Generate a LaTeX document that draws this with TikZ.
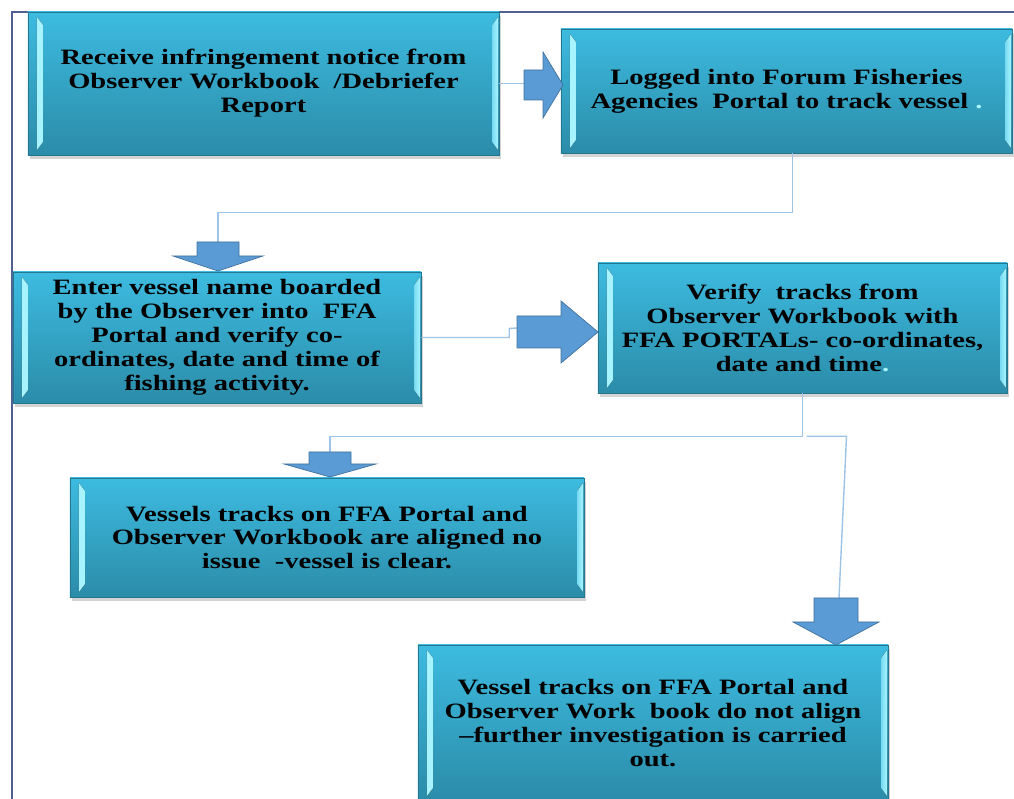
\documentclass[tikz,border=0pt]{standalone}
\usepackage{fontspec}
\newfontfamily\boxfont{Liberation Serif}[FakeStretch=1.3]
\usetikzlibrary{shadows,calc}

\definecolor{boxtop}{HTML}{3DBBE0}
\definecolor{boxbot}{HTML}{2B8CA9}
\definecolor{bevel}{HTML}{A8F4FF}
\definecolor{arrowfill}{HTML}{5B9BD5}
\definecolor{arrowline}{HTML}{41719C}
\definecolor{linkblue}{HTML}{9DC3E6}
\definecolor{framecol}{HTML}{4F6090}

\begin{document}
\begin{tikzpicture}[x=0.025cm, y=-0.025cm,
    stepbox/.style={rectangle, inner sep=0pt, top color=boxtop, bottom color=boxbot,
        draw=boxbot!85!black, line width=0.3pt, align=center,
        font=\boxfont\bfseries\fontsize{15.6}{17}\selectfont,
        drop shadow={shadow xshift=0.5mm, shadow yshift=-0.9mm, opacity=0.35},
        path picture={
            \fill[left color=bevel, right color=bevel!55!boxtop]
                ([shift={(9,5)}]path picture bounding box.north west) -- ([shift={(15,13)}]path picture bounding box.north west)
                -- ([shift={(15,-13)}]path picture bounding box.south west) -- ([shift={(9,-5)}]path picture bounding box.south west) -- cycle;
            \fill[right color=bevel, left color=bevel!55!boxtop]
                ([shift={(-1,5)}]path picture bounding box.north east) -- ([shift={(-7,13)}]path picture bounding box.north east)
                -- ([shift={(-7,-13)}]path picture bounding box.south east) -- ([shift={(-1,-5)}]path picture bounding box.south east) -- cycle;
        }},
    blockarrow/.style={fill=arrowfill, draw=arrowline, line width=0.5pt, line join=miter},
    link/.style={draw=linkblue, line width=1pt},
    pageframe/.style={draw=framecol, line width=0.9pt}]

\useasboundingbox (0,0) rectangle (1014,799);

% outer frame
\draw[pageframe] (12,799) -- (12,12) -- (1014,12);

% steps
\node[stepbox, minimum width=11.775cm, minimum height=3.575cm] (receive) at (263.5,83.5)
    {Receive infringement notice from\\Observer Workbook \ /Debriefer\\Report};
\node[stepbox, minimum width=11.275cm, minimum height=3.1cm] (logged) at (786.5,91)
    {Logged into Forum Fisheries\\Agencies \ Portal to track vessel {\color{bevel}.}};
\node[stepbox, minimum width=10.2cm, minimum height=3.275cm] (enter) at (217,337.5)
    {Enter vessel name boarded\\by the Observer into \ FFA\\Portal and verify co-\\ordinates, date and time of\\fishing activity.};
\node[stepbox, minimum width=10.225cm, minimum height=3.25cm] (verify) at (802.5,328)
    {Verify \ tracks from\\Observer Workbook with\\FFA PORTALs- co-ordinates,\\date and time{\color{bevel}.}};
\node[stepbox, minimum width=12.85cm, minimum height=2.975cm] (aligned) at (327,537.5)
    {Vessels tracks on FFA Portal and\\Observer Workbook are aligned no\\issue \ -vessel is clear.};
\node[stepbox, minimum width=11.75cm, minimum height=3.9cm] (notalign) at (653,723)
    {Vessel tracks on FFA Portal and\\Observer Work \ book do not align\\–further investigation is carried\\out.};

% arrow tips and tails
\coordinate (tipD) at (563,85);   \coordinate (tailD) at (524,85);
\coordinate (tipA) at (218,271);  \coordinate (tailA) at (218,242);
\coordinate (tipE) at (598,332);  \coordinate (tailE) at (517,328);
\coordinate (tipB) at (330,477);  \coordinate (tailB) at (330,452);
\coordinate (tipC) at (836,645);  \coordinate (tailC) at (839,598);

% connectors
\draw[link] (receive.east) -- (receive.east -| tailD);
\draw[link] ([xshift=0.15cm]logged.south) -- ++(0,59) -| (tailA);
\draw[link] (enter.east) -- ++(88,0) -- ++(0,-9) -- (tailE);
\draw[link] (verify.south) -- ++(0,43) coordinate (split) -| (tailB);
\draw[link] (split) ++(4,0) -- ++(40,0) -- (tailC);

% block arrows
\filldraw[blockarrow] (tipD) -- ++(-20,-33) -- ++(0,18) -- ++(-19,0) -- ++(0,30) -- ++(19,0) -- ++(0,18) -- cycle;
\filldraw[blockarrow] (tipA) -- ++(-45,-15) -- ++(24,0) -- ++(0,-14) -- ++(42,0) -- ++(0,14) -- ++(24,0) -- cycle;
\filldraw[blockarrow] (tipE) -- ++(-37,-31) -- ++(0,15) -- ++(-44,0) -- ++(0,32) -- ++(44,0) -- ++(0,15) -- cycle;
\filldraw[blockarrow] (tipB) -- ++(-46,-13) -- ++(25,0) -- ++(0,-12) -- ++(42,0) -- ++(0,12) -- ++(25,0) -- cycle;
\filldraw[blockarrow] (tipC) -- ++(-43,-23) -- ++(21,0) -- ++(0,-24) -- ++(44,0) -- ++(0,24) -- ++(21,0) -- cycle;
\end{tikzpicture}
\end{document}
